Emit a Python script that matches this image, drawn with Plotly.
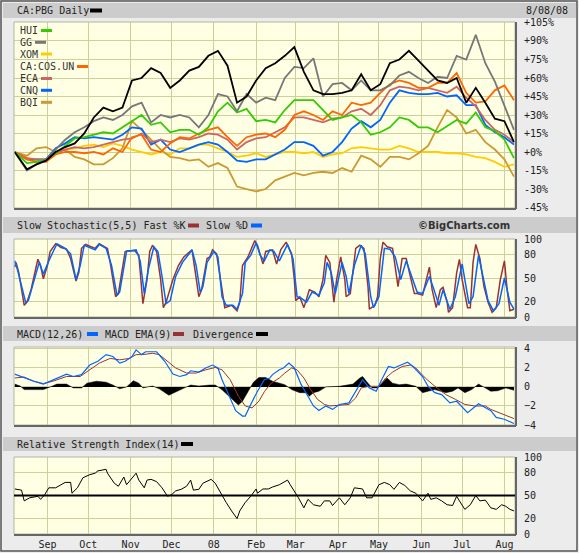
import plotly.graph_objects as go
import pandas as pd

# ---------------- data ----------------
week_dates = ['2007-08-08'] + [d.strftime('%Y-%m-%d') for d in pd.date_range('2007-08-17', periods=52, freq='W-FRI')]

pbg = [0, -14, -10, -7, 0, 4, 7, 15, 28, 36, 33, 36, 58, 60, 68, 64, 52, 58, 66, 69, 78, 82, 70, 40, 45,
       58, 68, 72, 78, 85, 65, 50, 47, 47, 48, 50, 63, 50, 55, 72, 75, 82, 74, 66, 58, 56, 60, 40, 52, 40, 27, 25, 8]
hui = [0, -9, -8, -6, -1, 5, 11, 12, 14, 16, 15, 20, 25, 30, 22, 24, 16, 18, 18, 14, 20, 33, 40, 32, 35,
       25, 26, 24, 34, 42, 42, 42, 34, 26, 28, 30, 24, 14, 16, 20, 28, 26, 20, 20, 16, 21, 26, 23, 32, 20, 17, 10, -5]
gg = [0, -15, -10, -6, 2, 10, 16, 20, 25, 28, 26, 30, 37, 40, 24, 30, 28, 30, 28, 20, 30, 47, 45, 33, 47,
      40, 44, 42, 60, 69, 68, 76, 45, 55, 56, 50, 58, 50, 50, 54, 62, 65, 60, 56, 61, 60, 78, 75, 95, 72, 57, 38, 18]
xom = [0, -5, -7, -7, 0, 2, 3, 5, 6, 4, 7, 5, 2, 0, -2, 0, -2, 3, 3, 6, 6, 3, 0, -4, -3,
       -1, -4, -2, 0, 0, -1, 0, -4, -2, -1, 3, 4, 3, 2, 2, 5, 3, 0, 0, 0, -1, -1, -2, -4, -5, -8, -12, -10]
cos_un = [0, -6, -8, -8, -2, 0, 0, -1, 0, -2, 3, 0, 12, 14, 2, 0, 7, 12, 11, 15, 18, 20, 12, 5, 12,
          14, 15, 12, 18, 30, 33, 30, 26, 33, 30, 40, 38, 40, 48, 55, 58, 56, 52, 52, 56, 56, 64, 48, 40, 41, 50, 54, 42]
eca = [0, -5, -6, -6, -1, 2, 4, 3, 4, 6, 8, 10, 11, 15, 8, 10, 8, 11, 10, 12, 15, 14, 10, 2, 8,
       11, 12, 16, 20, 28, 28, 26, 24, 27, 28, 33, 35, 30, 38, 50, 53, 52, 50, 52, 50, 48, 53, 44, 37, 26, 18, 14, 8]
cnq = [0, -6, -6, -6, 3, 7, 12, 11, 12, 11, 10, 14, 20, 19, 6, 10, 2, 0, 3, 6, 8, 6, 0, -7, -8,
       -6, -6, -2, 2, 8, 8, 5, -3, 0, 8, 19, 25, 20, 26, 40, 50, 48, 47, 47, 48, 45, 46, 38, 38, 22, 16, 12, 6]
bqi = [0, -3, 3, 4, 0, 2, -4, -6, -10, -10, -5, 3, 25, 18, 10, 2, -4, -5, -7, -6, -12, -9, -13, -28, -30,
       -32, -30, -23, -20, -17, -19, -17, -16, -17, -13, -16, -3, -6, -12, -4, -4, -6, -1, 5, 20, 34, 28, 15, 18, 8, 2, -6, -20]

stk_dates = ['2007-08-08', '2007-08-09', '2007-08-11', '2007-08-15', '2007-08-17', '2007-08-20', '2007-08-25',
             '2007-08-27', '2007-08-29', '2007-09-01', '2007-09-03', '2007-09-07', '2007-09-11', '2007-09-15',
             '2007-09-18', '2007-09-22', '2007-09-24', '2007-09-26', '2007-09-29', '2007-10-04', '2007-10-06',
             '2007-10-09', '2007-10-12', '2007-10-15', '2007-10-17', '2007-10-21', '2007-10-23', '2007-10-28',
             '2007-10-30', '2007-11-04', '2007-11-07', '2007-11-09', '2007-11-10', '2007-11-13', '2007-11-15',
             '2007-11-17', '2007-11-20', '2007-11-23', '2007-11-25', '2007-11-27', '2007-12-02', '2007-12-06',
             '2007-12-10', '2007-12-16', '2007-12-18', '2007-12-21', '2007-12-23', '2007-12-27', '2007-12-29',
             '2007-12-31', '2008-01-03', '2008-01-05', '2008-01-09', '2008-01-14', '2008-01-18', '2008-01-20',
             '2008-01-22', '2008-01-26', '2008-01-31', '2008-02-02', '2008-02-06', '2008-02-08', '2008-02-13',
             '2008-02-16', '2008-02-19', '2008-02-23', '2008-02-27', '2008-02-29', '2008-03-01', '2008-03-04',
             '2008-03-07', '2008-03-11', '2008-03-15', '2008-03-18', '2008-03-21', '2008-03-23', '2008-03-26',
             '2008-03-29', '2008-03-31', '2008-04-03', '2008-04-06', '2008-04-07', '2008-04-10', '2008-04-14',
             '2008-04-17', '2008-04-20', '2008-04-23', '2008-04-24', '2008-04-28', '2008-04-30', '2008-05-02',
             '2008-05-04', '2008-05-07', '2008-05-11', '2008-05-13', '2008-05-15', '2008-05-18', '2008-05-21',
             '2008-05-24', '2008-05-27', '2008-05-29', '2008-06-02', '2008-06-07', '2008-06-09', '2008-06-12',
             '2008-06-15', '2008-06-17', '2008-06-20', '2008-06-21', '2008-06-24', '2008-06-27', '2008-06-29',
             '2008-07-01', '2008-07-05', '2008-07-07', '2008-07-09', '2008-07-11', '2008-07-14', '2008-07-17',
             '2008-07-20', '2008-07-23', '2008-07-26', '2008-07-29', '2008-08-01', '2008-08-03', '2008-08-05',
             '2008-08-08']
fast_k = [64, 70, 57, 15, 19, 35, 74, 66, 49, 66, 84, 94, 89, 87, 75, 46, 57, 88, 93, 90, 88, 94, 91, 88, 70, 26,
          30, 84, 85, 85, 79, 43, 17, 48, 84, 92, 84, 48, 12, 19, 48, 66, 77, 86, 62, 26, 35, 75, 77, 86, 81, 57,
          12, 15, 8, 19, 66, 77, 98, 92, 68, 84, 86, 68, 86, 96, 81, 48, 21, 26, 12, 35, 32, 26, 48, 79, 70, 19,
          48, 77, 48, 26, 30, 88, 92, 88, 39, 10, 15, 26, 75, 96, 90, 88, 66, 39, 75, 75, 52, 30, 30, 28, 64, 35,
          12, 35, 38, 19, 6, 12, 57, 74, 48, 12, 12, 70, 93, 75, 39, 19, 6, 12, 48, 72, 35, 8, 10]

std_dates = ['2007-08-08', '2007-08-10', '2007-08-16', '2007-08-18', '2007-08-26', '2007-08-29', '2007-09-02',
             '2007-09-08', '2007-09-14', '2007-09-18', '2007-09-22', '2007-09-25', '2007-09-28', '2007-10-06',
             '2007-10-09', '2007-10-14', '2007-10-18', '2007-10-22', '2007-10-24', '2007-10-29', '2007-11-05',
             '2007-11-08', '2007-11-11', '2007-11-14', '2007-11-18', '2007-11-21', '2007-11-24', '2007-11-27',
             '2007-11-30', '2007-12-04', '2007-12-09', '2007-12-16', '2007-12-19', '2007-12-22', '2007-12-24',
             '2007-12-27', '2008-01-01', '2008-01-04', '2008-01-07', '2008-01-10', '2008-01-15', '2008-01-18',
             '2008-01-22', '2008-01-24', '2008-01-28', '2008-02-01', '2008-02-04', '2008-02-07', '2008-02-11',
             '2008-02-14', '2008-02-18', '2008-02-24', '2008-02-28', '2008-03-02', '2008-03-05', '2008-03-09',
             '2008-03-13', '2008-03-18', '2008-03-22', '2008-03-24', '2008-03-27', '2008-03-30', '2008-04-04',
             '2008-04-07', '2008-04-09', '2008-04-13', '2008-04-18', '2008-04-21', '2008-04-25', '2008-04-27',
             '2008-05-01', '2008-05-05', '2008-05-09', '2008-05-13', '2008-05-17', '2008-05-21', '2008-05-24',
             '2008-05-29', '2008-06-02', '2008-06-07', '2008-06-10', '2008-06-14', '2008-06-17', '2008-06-22',
             '2008-06-26', '2008-07-01', '2008-07-06', '2008-07-09', '2008-07-13', '2008-07-17', '2008-07-20',
             '2008-07-24', '2008-07-28', '2008-08-01', '2008-08-05', '2008-08-08']
slow_d = [72, 61, 19, 21, 70, 55, 72, 94, 88, 81, 48, 66, 92, 86, 93, 88, 66, 28, 32, 84, 86, 72, 30, 61, 90, 84,
          52, 17, 21, 52, 70, 86, 66, 32, 39, 70, 84, 77, 26, 15, 15, 10, 30, 70, 79, 95, 79, 72, 86, 84, 72, 93,
          75, 26, 24, 19, 32, 28, 44, 70, 57, 30, 70, 52, 30, 66, 92, 81, 26, 12, 26, 88, 87, 77, 48, 72, 57, 32,
          30, 52, 37, 15, 35, 10, 26, 68, 17, 26, 79, 48, 21, 8, 17, 50, 19, 10]

macd_dates = ['2007-08-08', '2007-08-15', '2007-08-22', '2007-08-29', '2007-09-05', '2007-09-15', '2007-09-20',
              '2007-09-26', '2007-10-02', '2007-10-08', '2007-10-14', '2007-10-19', '2007-10-24', '2007-10-28',
              '2007-11-02', '2007-11-05', '2007-11-09', '2007-11-12', '2007-11-20', '2007-11-26', '2007-12-02',
              '2007-12-07', '2007-12-12', '2007-12-15', '2007-12-21', '2007-12-26', '2007-12-31', '2008-01-04',
              '2008-01-07', '2008-01-12', '2008-01-17', '2008-01-22', '2008-01-24', '2008-01-28', '2008-02-02',
              '2008-02-07', '2008-02-11', '2008-02-13', '2008-02-18', '2008-02-21', '2008-02-25', '2008-02-29',
              '2008-03-05', '2008-03-10', '2008-03-14', '2008-03-18', '2008-03-23', '2008-03-28', '2008-04-02',
              '2008-04-09', '2008-04-14', '2008-04-19', '2008-04-24', '2008-04-29', '2008-05-03', '2008-05-08',
              '2008-05-12', '2008-05-17', '2008-05-22', '2008-05-26', '2008-06-02', '2008-06-06', '2008-06-11',
              '2008-06-16', '2008-06-22', '2008-06-27', '2008-07-02', '2008-07-05', '2008-07-13', '2008-07-18',
              '2008-07-22', '2008-07-26', '2008-08-01', '2008-08-08']
macd = [1.35, 0.94, 0.6, 0.3, 0.76, 1.35, 1.1, 1.3, 2.3, 2.7, 3.4, 3.2, 2.5, 2.7, 3.2, 3.9, 3.4, 3.7, 3.7, 2.7,
        1.35, 1.1, 1.3, 1.7, 1.56, 2.0, 2.3, 2.0, 0.76, -0.97, -2.5, -3.06, -3.06, -1.84, -0.45, 0.76, 0.94, 1.3,
        1.8, 2.0, 2.5, 2.0, 0.24, -0.97, -2.0, -2.47, -2.0, -2.36, -1.84, -1.67, -0.45, 0.76, -0.1, -0.45, 0.76,
        2.15, 2.0, 2.3, 2.6, 2.15, 1.1, 0.07, -0.6, -0.8, -1.67, -1.5, -2.2, -2.7, -1.77, -2.2, -2.5, -3.2, -3.4,
        -3.85]

ema_dates = ['2007-08-08', '2007-08-15', '2007-08-22', '2007-08-29', '2007-09-05', '2007-09-15', '2007-09-25',
             '2007-10-02', '2007-10-09', '2007-10-17', '2007-10-24', '2007-10-31', '2007-11-05', '2007-11-10',
             '2007-11-17', '2007-11-22', '2007-11-28', '2007-12-04', '2007-12-12', '2007-12-19', '2007-12-26',
             '2008-01-02', '2008-01-07', '2008-01-13', '2008-01-19', '2008-01-24', '2008-01-29', '2008-02-03',
             '2008-02-07', '2008-02-12', '2008-02-18', '2008-02-22', '2008-02-27', '2008-03-02', '2008-03-07',
             '2008-03-12', '2008-03-17', '2008-03-22', '2008-03-26', '2008-04-02', '2008-04-09', '2008-04-14',
             '2008-04-18', '2008-04-24', '2008-05-01', '2008-05-06', '2008-05-11', '2008-05-18', '2008-05-24',
             '2008-05-28', '2008-06-04', '2008-06-11', '2008-06-19', '2008-06-26', '2008-07-03', '2008-07-10',
             '2008-07-18', '2008-07-22', '2008-07-28', '2008-08-01', '2008-08-08']
macd_ema = [0.94, 1.04, 0.6, 0.35, 0.6, 1.1, 1.1, 1.8, 2.5, 3.0, 2.85, 3.0, 3.4, 3.4, 3.54, 3.4, 2.7, 2.0, 1.46,
            1.46, 1.8, 2.05, 1.8, 0.76, -0.97, -2.0, -2.2, -1.5, -0.5, 0.4, 0.94, 1.46, 2.0, 1.8, 0.94, -0.28,
            -1.3, -1.84, -2.0, -1.9, -1.84, -1.15, -0.1, 0.07, 0.07, 0.94, 1.56, 2.15, 2.3, 2.0, 0.94, 0.07, -0.8,
            -1.3, -1.84, -2.0, -2.0, -2.36, -2.7, -2.9, -3.33]

div_dates = ['2007-08-08', '2007-08-12', '2007-08-15', '2007-08-22', '2007-08-29', '2007-09-03', '2007-09-08',
             '2007-09-15', '2007-09-20', '2007-09-26', '2007-09-30', '2007-10-07', '2007-10-14', '2007-10-19',
             '2007-10-24', '2007-10-29', '2007-11-03', '2007-11-07', '2007-11-10', '2007-11-17', '2007-11-22',
             '2007-11-29', '2007-12-04', '2007-12-09', '2007-12-15', '2007-12-21', '2007-12-29', '2008-01-02',
             '2008-01-07', '2008-01-12', '2008-01-19', '2008-01-22', '2008-01-27', '2008-01-30', '2008-02-03',
             '2008-02-08', '2008-02-13', '2008-02-18', '2008-02-22', '2008-02-27', '2008-03-04', '2008-03-09',
             '2008-03-11', '2008-03-14', '2008-03-18', '2008-03-20', '2008-03-23', '2008-04-02', '2008-04-07',
             '2008-04-12', '2008-04-17', '2008-04-19', '2008-04-23', '2008-04-26', '2008-04-30', '2008-05-02',
             '2008-05-07', '2008-05-11', '2008-05-16', '2008-05-21', '2008-05-28', '2008-06-02', '2008-06-06',
             '2008-06-11', '2008-06-19', '2008-06-24', '2008-06-28', '2008-07-03', '2008-07-08', '2008-07-13',
             '2008-07-18', '2008-07-22', '2008-07-27', '2008-08-02', '2008-08-08']
divergence = [0.3, 0.1, -0.28, -0.3, -0.28, 0.0, 0.3, 0.3, -0.1, -0.1, 0.4, 0.6, 0.5, 0.2, -0.2, 0.0, 0.66, 0.4,
              -0.1, 0.1, -0.2, -0.87, -0.5, -0.2, 0.2, 0.1, 0.2, 0.2, -0.3, -1.0, -1.9, -1.5, -0.2, 0.5, 1.0, 1.0,
              0.6, 0.4, 0.24, -0.28, -0.6, -0.6, -0.97, -0.6, -0.45, -0.28, 0.0, 0.07, 0.17, 0.3, 0.94, 1.1, 0.4,
              -0.1, -0.1, 0.24, 0.94, 0.4, 0.24, 0.3, 0.07, -0.6, -0.45, -0.28, -0.6, -0.45, -0.1, -0.6, -0.28,
              0.3, -0.1, -0.45, -0.4, -0.1, -0.35]

rsi_dates = ['2007-08-08', '2007-08-13', '2007-08-15', '2007-08-19', '2007-08-25', '2007-08-27', '2007-08-30',
             '2007-09-02', '2007-09-07', '2007-09-14', '2007-09-18', '2007-09-19', '2007-09-23', '2007-09-27',
             '2007-10-02', '2007-10-06', '2007-10-08', '2007-10-14', '2007-10-15', '2007-10-20', '2007-10-23',
             '2007-10-27', '2007-10-29', '2007-11-05', '2007-11-07', '2007-11-11', '2007-11-13', '2007-11-16',
             '2007-11-20', '2007-11-24', '2007-11-28', '2007-12-01', '2007-12-04', '2007-12-08', '2007-12-12',
             '2007-12-15', '2007-12-17', '2007-12-21', '2007-12-24', '2007-12-30', '2008-01-02', '2008-01-06',
             '2008-01-10', '2008-01-14', '2008-01-18', '2008-01-20', '2008-01-24', '2008-01-28', '2008-02-01',
             '2008-02-02', '2008-02-06', '2008-02-10', '2008-02-13', '2008-02-18', '2008-02-24', '2008-02-26',
             '2008-02-29', '2008-03-03', '2008-03-07', '2008-03-10', '2008-03-14', '2008-03-19', '2008-03-22',
             '2008-03-26', '2008-03-28', '2008-04-02', '2008-04-06', '2008-04-10', '2008-04-13', '2008-04-19',
             '2008-04-22', '2008-04-26', '2008-05-01', '2008-05-05', '2008-05-09', '2008-05-12', '2008-05-16',
             '2008-05-20', '2008-05-24', '2008-05-28', '2008-06-02', '2008-06-06', '2008-06-08', '2008-06-12',
             '2008-06-16', '2008-06-20', '2008-06-24', '2008-06-27', '2008-06-29', '2008-07-03', '2008-07-07',
             '2008-07-11', '2008-07-14', '2008-07-18', '2008-07-22', '2008-07-26', '2008-07-30', '2008-08-02',
             '2008-08-05', '2008-08-08']
rsi = [58.5, 57, 43, 47, 49, 45, 51, 60, 60, 67, 67, 53, 60, 73, 77, 79, 82, 84, 79, 66, 62, 74, 64, 79, 70, 60,
       70, 71, 68, 60, 49, 51, 56, 58, 62, 70, 57, 58, 66, 71, 66, 53, 41, 30, 20, 30, 41, 49, 58.5, 53, 58.5,
       58.5, 61, 64, 70, 64, 56, 47, 34, 45, 38, 36, 43, 43, 37, 47, 38, 47, 60, 58.5, 47, 47, 64, 67, 64, 58,
       67, 63, 56, 53, 43, 53, 45, 47, 43, 38, 37, 49, 43, 32, 38, 50, 43, 44, 34, 32, 38, 36, 32, 30]

month_ticks = ['2007-09-01', '2007-10-01', '2007-11-01', '2007-12-01', '2008-01-01', '2008-02-01',
               '2008-03-01', '2008-04-01', '2008-05-01', '2008-06-01', '2008-07-01', '2008-08-01']
month_labels = ['Sep', 'Oct', 'Nov', 'Dec', '08', 'Feb', 'Mar', 'Apr', 'May', 'Jun', 'Jul', 'Aug']
pct_ticks = [-45, -30, -15, 0, 15, 30, 45, 60, 75, 90, 105]
pct_labels = ['-45%', '-30%', '-15%', '+0%', '+15%', '+30%', '+45%', '+60%', '+75%', '+90%', '+105%']

# ---------------- layout helpers ----------------
W, H = 579, 553
L, R, T, B = 14, 515, 22, 534
def fx(x):
    return (x - L) / (R - L)
def fy(y):
    return (B - y) / (B - T)

MONO = 'DejaVu Sans Mono'
TXT = '#222222'
GRID = '#cfcf9c'

fig = go.Figure()

main_series = [('XOM', xom, '#ffcc00'), ('BQI', bqi, '#cc9933'), ('CNQ', cnq, '#0066ff'),
               ('ECA', eca, '#cc6666'), ('CA:COS.UN', cos_un, '#ff6600'), ('HUI', hui, '#33cc00'),
               ('GG', gg, '#777777')]
for name, vals, col in main_series:
    fig.add_trace(go.Scatter(x=week_dates, y=vals, mode='lines', name=name,
                             line=dict(color=col, width=1.8), xaxis='x', yaxis='y'))
fig.add_trace(go.Scatter(x=week_dates, y=pbg, mode='lines', name='CA:PBG',
                         line=dict(color='#000000', width=1.8), xaxis='x', yaxis='y'))

fig.add_trace(go.Scatter(x=stk_dates, y=fast_k, mode='lines', line=dict(color='#993333', width=1.5),
                         xaxis='x2', yaxis='y2'))
fig.add_trace(go.Scatter(x=std_dates, y=slow_d, mode='lines', line=dict(color='#0066ff', width=1.5),
                         xaxis='x2', yaxis='y2'))

fig.add_trace(go.Scatter(x=div_dates, y=divergence, mode='lines', fill='tozeroy', fillcolor='#000000',
                         line=dict(color='#000000', width=0.5), xaxis='x3', yaxis='y3'))
fig.add_trace(go.Scatter(x=ema_dates, y=macd_ema, mode='lines', line=dict(color='#993333', width=1),
                         xaxis='x3', yaxis='y3'))
fig.add_trace(go.Scatter(x=macd_dates, y=macd, mode='lines', line=dict(color='#0066ff', width=1.2),
                         xaxis='x3', yaxis='y3'))

fig.add_trace(go.Scatter(x=rsi_dates, y=rsi, mode='lines', line=dict(color='#000000', width=1),
                         xaxis='x4', yaxis='y4'))

xr = ['2007-08-07 12:00', '2008-08-08 18:00']
xcommon = dict(range=xr, tickvals=month_ticks, showgrid=True, gridcolor=GRID, gridwidth=1,
               zeroline=False, showline=False, ticks='', type='date', automargin=False)
yfont = dict(family=MONO, size=10, color=TXT)
ycommon = dict(side='right', showgrid=True, gridcolor=GRID, gridwidth=1, zeroline=False, automargin=False,
               showline=False, ticks='outside', ticklen=6, tickcolor='rgba(0,0,0,0)', tickfont=yfont)

fig.update_layout(
    width=W, height=H, autosize=False,
    margin=dict(l=L, r=W - R, t=T, b=H - B, pad=0, autoexpand=False),
    paper_bgcolor='#ececec', plot_bgcolor='#ffffe4',
    showlegend=False,
    xaxis=dict(xcommon, anchor='y', showticklabels=False),
    xaxis2=dict(xcommon, anchor='y2', matches='x', showticklabels=False),
    xaxis3=dict(xcommon, anchor='y3', matches='x', showticklabels=False),
    xaxis4=dict(xcommon, anchor='y4', matches='x', showticklabels=True, ticktext=month_labels,
                tickfont=dict(family=MONO, size=10, color=TXT), ticks='outside', ticklen=1,
                tickcolor='rgba(0,0,0,0)'),
    yaxis=dict(ycommon, domain=[fy(208), fy(22)], range=[-45.4, 105.4], tickvals=pct_ticks,
               ticktext=pct_labels, anchor='x'),
    yaxis2=dict(ycommon, domain=[fy(317), fy(239)], range=[0, 100], tickvals=[0, 20, 50, 80, 100], anchor='x2'),
    yaxis3=dict(ycommon, domain=[fy(425), fy(347)], range=[-4.0, 4.2], tickvals=[-4, -2, 0, 2, 4], anchor='x3'),
    yaxis4=dict(ycommon, domain=[fy(534), fy(457)], range=[0, 100], tickvals=[0, 20, 50, 80, 100], anchor='x4'),
)

shapes = []
annos = []

def rect(x0, y0, x1, y1, fill=None, line=None, lw=0, layer='below'):
    shapes.append(dict(type='rect', xref='paper', yref='paper', x0=fx(x0), x1=fx(x1), y0=fy(y1), y1=fy(y0),
                       fillcolor=fill if fill else 'rgba(0,0,0,0)',
                       line=dict(color=line if line else 'rgba(0,0,0,0)', width=lw), layer=layer))

def hline(x0, x1, y, col, lw):
    shapes.append(dict(type='line', xref='paper', yref='paper', x0=fx(x0), x1=fx(x1), y0=fy(y), y1=fy(y),
                       line=dict(color=col, width=lw), layer='above'))

def vline(x, y0, y1, col, lw):
    shapes.append(dict(type='line', xref='paper', yref='paper', x0=fx(x), x1=fx(x), y0=fy(y0), y1=fy(y1),
                       line=dict(color=col, width=lw), layer='above'))

def text(x, y, s, size=10, color=TXT, family=MONO, anchor='left'):
    annos.append(dict(xref='paper', yref='paper', x=fx(x), y=fy(y), text=s, showarrow=False,
                      xanchor=anchor, yanchor='middle', font=dict(family=family, size=size, color=color)))

def swatch(x, y, col, w=11, h=4):
    shapes.append(dict(type='rect', xref='paper', yref='paper', x0=fx(x), x1=fx(x + w),
                       y0=fy(y + h / 2), y1=fy(y - h / 2), fillcolor=col, line=dict(width=0), layer='above'))

# title bars
for (y0, y1) in [(3, 18), (217, 233), (326, 341), (437, 451)]:
    rect(3, y0, 576, y1, fill='#cccccc')

# plot frames
for (y0, y1) in [(22, 208), (239, 317), (347, 425), (457, 534)]:
    rect(L, y0, R, y1, line='#b5b5a0', lw=1, layer='above')
    hline(L, R + 1, y1 + 1, '#666666', 2)
    vline(R + 1, y0, y1 + 1, '#666666', 2)

# outer border
rect(1, 1, 577, 551, line='#555555', lw=1.5, layer='above')

# RSI 50 line
shapes.append(dict(type='line', xref='paper', yref='y4', x0=0, x1=1, y0=50, y1=50,
                   line=dict(color='#000000', width=2), layer='above'))

# titles
text(15, 10.5, 'CA:PBG Daily'); swatch(90, 10.5, '#000000', 12, 4)
text(524, 10.5, '8/08/08')
text(15, 225.5, 'Slow Stochastic(5,5) Fast %K'); swatch(188, 225.5, '#993333', 11, 4)
text(204, 225.5, 'Slow %D'); swatch(251, 225.5, '#0066ff', 11, 4)
text(512, 225.5, '<b>©BigCharts.com</b>', family='DejaVu Sans', size=10, color='#333333', anchor='right')
text(15, 334, 'MACD(12,26)'); swatch(87, 334, '#0066ff', 11, 4)
text(103, 334, 'MACD EMA(9)'); swatch(173, 334, '#993333', 11, 4)
text(191, 334, 'Divergence'); swatch(256, 334, '#000000', 12, 4)
text(15, 444, 'Relative Strength Index(14)'); swatch(181, 444, '#000000', 12, 4)

# main legend
legend_items = [('HUI', '#33cc00', 30.5), ('GG', '#777777', 42.3), ('XOM', '#ffcc00', 54),
                ('CA:COS.UN', '#ff6600', 66.5), ('ECA', '#cc6666', 78.5), ('CNQ', '#0066ff', 90.3),
                ('BQI', '#cc9933', 102.3)]
for name, col, yy in legend_items:
    text(18, yy, name, color='#333333')
    swatch(18 + len(name) * 6.0 + 5, yy, col, 11, 3)

fig.update_layout(shapes=shapes, annotations=annos)
fig.write_html('out.html', config={'displayModeBar': False},
               post_script="document.body.style.margin='0px';document.body.style.overflow='hidden';")
